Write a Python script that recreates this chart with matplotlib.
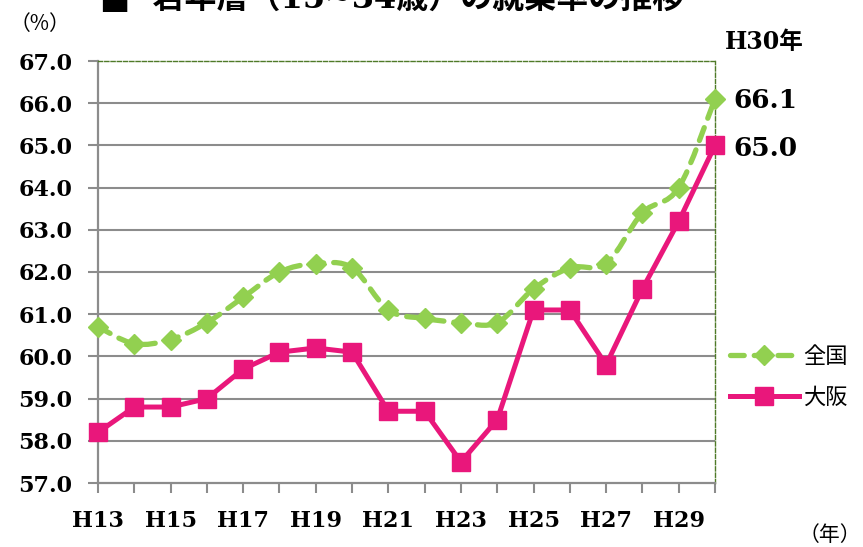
import matplotlib
matplotlib.use("Agg")
import matplotlib.pyplot as plt
from matplotlib.path import Path
from matplotlib.patches import PathPatch
from matplotlib.lines import Line2D

# data (若年層 15~34歳 就業率, %)
YEARS = ["H13", "H14", "H15", "H16", "H17", "H18", "H19", "H20", "H21",
         "H22", "H23", "H24", "H25", "H26", "H27", "H28", "H29", "H30"]
ZENKOKU = [60.7, 60.3, 60.4, 60.8, 61.4, 62.0, 62.2, 62.1, 61.1,
           60.9, 60.8, 60.8, 61.6, 62.1, 62.2, 63.4, 64.0, 66.1]
OSAKA = [58.2, 58.8, 58.8, 59.0, 59.7, 60.1, 60.2, 60.1, 58.7,
         58.7, 57.5, 58.5, 61.1, 61.1, 59.8, 61.6, 63.2, 65.0]
Y_TICKS = [57.0, 58.0, 59.0, 60.0, 61.0, 62.0, 63.0, 64.0, 65.0, 66.0, 67.0]

GREEN = "#92D050"
PINK = "#E9177B"
GRID = "#8C8C8C"
BORDER = "#4F7A28"
SERIF = ["DejaVu Serif", "Noto Sans CJK JP"]
CJK = ["Noto Sans CJK JP", "DejaVu Sans"]

W, H = 863, 547


def smooth_path(xs, ys):
    # Catmull-Rom style cubic Bezier through the points (like Excel's smoothed line)
    pts = list(zip(xs, ys))
    verts = [pts[0]]
    codes = [Path.MOVETO]
    n = len(pts)
    for i in range(n - 1):
        p0 = pts[i - 1] if i > 0 else pts[i]
        p1 = pts[i]
        p2 = pts[i + 1]
        p3 = pts[i + 2] if i + 2 < n else pts[i + 1]
        c1 = (p1[0] + (p2[0] - p0[0]) / 6.0, p1[1] + (p2[1] - p0[1]) / 6.0)
        c2 = (p2[0] - (p3[0] - p1[0]) / 6.0, p2[1] - (p3[1] - p1[1]) / 6.0)
        verts += [c1, c2, p2]
        codes += [Path.CURVE4] * 3
    return Path(verts, codes)


fig = plt.figure(figsize=(W / 100, H / 100), dpi=100)
ax = fig.add_axes([98 / W, 1 - 483 / H, (715 - 98) / W, (483 - 61) / H])

x = list(range(len(YEARS)))

# 全国: smoothed dashed line
patch = PathPatch(smooth_path(x, ZENKOKU), fill=False, edgecolor=GREEN,
                  linewidth=3.8, linestyle=(0, (2.6, 1.9)), capstyle="round",
                  zorder=3, clip_on=False)
ax.add_patch(patch)
ax.plot(x, ZENKOKU, linestyle="none", marker="D", markersize=10,
        color=GREEN, zorder=4, clip_on=False)

# 大阪
ax.plot(x, OSAKA, color=PINK, linewidth=3.6, marker="s", markersize=13,
        zorder=5, clip_on=False, solid_joinstyle="round")

ax.set_xlim(0, len(YEARS) - 1)
ax.set_ylim(Y_TICKS[0], Y_TICKS[-1])
ax.set_yticks(Y_TICKS)
ax.set_yticklabels([f"{v:.1f}" for v in Y_TICKS])
ax.set_xticks(x)
ax.set_xticklabels([y if i % 2 == 0 else "" for i, y in enumerate(YEARS)])

for v in Y_TICKS[1:-1]:
    ax.axhline(v, color=GRID, linewidth=1.5, zorder=1)

for side in ("left", "bottom"):
    ax.spines[side].set_color(GRID)
    ax.spines[side].set_linewidth(1.6)
for side in ("top", "right"):
    ax.spines[side].set_color(BORDER)
    ax.spines[side].set_linewidth(1.0)
    ax.spines[side].set_linestyle((0, (3, 1.5)))

ax.tick_params(axis="both", direction="out", length=7.5, width=1.5, color=GRID)
ax.tick_params(axis="y", pad=11)
ax.tick_params(axis="x", pad=12)
for lab in ax.get_yticklabels() + ax.get_xticklabels():
    lab.set_fontfamily(SERIF)
    lab.set_fontweight("bold")
    lab.set_fontsize(16)

# end labels
ax.annotate("H30年", xy=(len(YEARS) - 1, 1.0), xycoords=("data", "axes fraction"),
            xytext=(7, 5), textcoords="offset points", ha="left", va="bottom",
            fontsize=17, fontweight="bold", family=SERIF)
ax.annotate(f"{ZENKOKU[-1]:.1f}", xy=(len(YEARS) - 1, ZENKOKU[-1]),
            xytext=(13, -1), textcoords="offset points", ha="left", va="center",
            fontsize=19, fontweight="bold", family=SERIF)
ax.annotate(f"{OSAKA[-1]:.1f}", xy=(len(YEARS) - 1, OSAKA[-1]),
            xytext=(13, -2), textcoords="offset points", ha="left", va="center",
            fontsize=19, fontweight="bold", family=SERIF)

# legend
handles = [
    Line2D([], [], color=GREEN, linewidth=3.8, linestyle=(0, (2.6, 1.9)),
           dash_capstyle="round", marker="D", markersize=10),
    Line2D([], [], color=PINK, linewidth=3.6, marker="s", markersize=13),
]
leg = fig.legend(handles, ["全国", "大阪"], loc="center left",
                 bbox_to_anchor=(710 / W, 1 - 377 / H), frameon=False,
                 handlelength=3.1, handletextpad=0.2, labelspacing=0.8,
                 prop={"family": CJK, "size": 16})

fig.text(100 / W, 1 - 15 / H, "■  若年層（15~34歳）の就業率の推移", ha="left",
         va="bottom", fontsize=23, fontweight="bold", family=SERIF)
fig.text(40 / W, 1 - 24 / H, "（%）", ha="center", va="center",
         fontsize=15, family=CJK)
fig.text(861 / W, 1 - 535 / H, "（年）", ha="right", va="center",
         fontsize=15, family=CJK)

fig.savefig("out.png", dpi=100)
